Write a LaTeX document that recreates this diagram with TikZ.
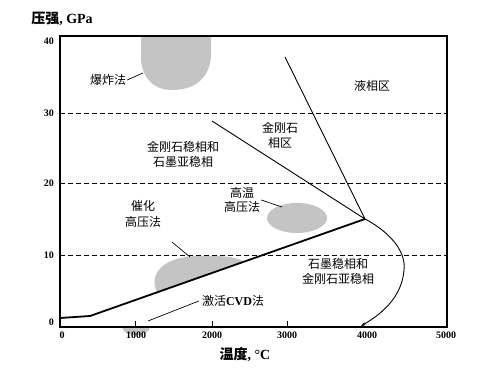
\documentclass[tikz,border=0pt]{standalone}
\usepackage{fontspec}
\setmainfont{Liberation Serif}
\newfontfamily\cjk{Noto Sans CJK SC}
\usepackage{tikz}
\usetikzlibrary{arrows.meta}
\definecolor{blobgray}{HTML}{c4c4c4}

\begin{document}
\begin{tikzpicture}[x=1pt, y=-1pt,
  region/.style={font=\cjk\fontsize{12}{15}\selectfont, align=center, inner sep=1pt},
  method/.style={font=\cjk\fontsize{12}{13.5}\selectfont, align=center, inner sep=1pt},
  ticklabel/.style={font=\bfseries\fontsize{10}{12}\selectfont, inner sep=1pt},
  axistitle/.style={font=\bfseries\fontsize{14}{16}\selectfont, inner sep=1pt},
  phaseline/.style={line width=0.9pt},
  leader/.style={line width=0.7pt},
  grid/.style={dashed, dash pattern=on 5pt off 3pt, line width=0.8pt},
]
\useasboundingbox (0,0) rectangle (481,371);

% Methods (gray areas)
\fill[blobgray] (141,36) -- (141,60) .. controls (143,80) and (155,90) .. (172,90)
  .. controls (195,90) and (210,78) .. (211,55) -- (211,36) -- cycle;
\fill[blobgray] (297,218) ellipse [x radius=30, y radius=15];
\fill[blobgray] (157,292) .. controls (149,276) and (160,258) .. (195,256)
  .. controls (222,255) and (238,257) .. (244,262) -- cycle;
\fill[blobgray] (122,327) arc[start angle=180, end angle=0, x radius=14, y radius=8] -- cycle;

% Grid
\foreach \y in {113,183,255} {
  \draw[grid] (60,\y) -- (447,\y);
}

% Phase boundaries
\coordinate (triple) at (365,219);
\coordinate (lowstart) at (60,318);
\coordinate (lowknee) at (90,316);
\coordinate (diaend) at (212,121);
\coordinate (liqend) at (285,57);
\coordinate (meltend) at (361,326);
\draw[line width=1.8pt] (lowstart) -- (lowknee) -- (triple);
\draw[phaseline] (diaend) -- (triple) -- (liqend);
\draw[phaseline, -{Stealth[length=5pt, width=3.5pt]}] (triple)
  .. controls (395,235) and (406,255) .. (404,270)
  .. controls (402,295) and (385,312) .. (meltend);

% Axes box and ticks
\draw[line width=2pt] (60,36) rectangle (447,327);
\foreach \x in {135,212,287} {
  \draw[line width=1pt] (\x,327) -- (\x,321);
}

% Tick labels
\foreach \x/\xlabel in {62/0, 136/1000, 212/2000, 287/3000, 367/4000, 446/5000} {
  \node[ticklabel] (x\xlabel) at (\x,335) {\xlabel};
}
\foreach \y/\ylabel in {41/40, 113/30, 183/20, 255/10, 322/0} {
  \node[ticklabel, anchor=east] (y\ylabel) at (55,\y) {\ylabel};
}

% Axis titles
\node[axistitle] (ytitle) at (62,19) {{\cjk 压强}, GPa};
\node[axistitle] (xtitle) at (245,355) {{\cjk 温度}, °C};

% Regions
\node[region] (liquid) at (372,86) {液相区};
\node[region] (diamond) at (280,135) {金刚石\\相区};
\node[region] (diamondstable) at (183,154) {金刚石稳相和\\石墨亚稳相};
\node[region] (graphitestable) at (338,271) {石墨稳相和\\金刚石亚稳相};

% Methods labels
\node[method] (blast) at (108,80) {爆炸法};
\node[method] (hthp) at (242,200) {高温\\高压法};
\node[method, text width=40pt] (catalyst) at (143,214) {催化\\[2pt]高压法};
\node[method] (cvd) at (233,301) {激活{\rmfamily\bfseries CVD}法};

\coordinate (blastblob) at (143,73);
\coordinate (hthpblob) at (282,207);
\coordinate (catalysttail) at (172,242);
\coordinate (catalystblob) at (190,257);
\coordinate (cvdblob) at (148,321);
\draw[leader] (blast.east) -- (blastblob);
\draw[leader] (hthp.east) -- (hthpblob);
\draw[leader] (catalysttail) -- (catalystblob);
\draw[leader] ([xshift=-2pt]cvd.west) -- (cvdblob);

\end{tikzpicture}
\end{document}
